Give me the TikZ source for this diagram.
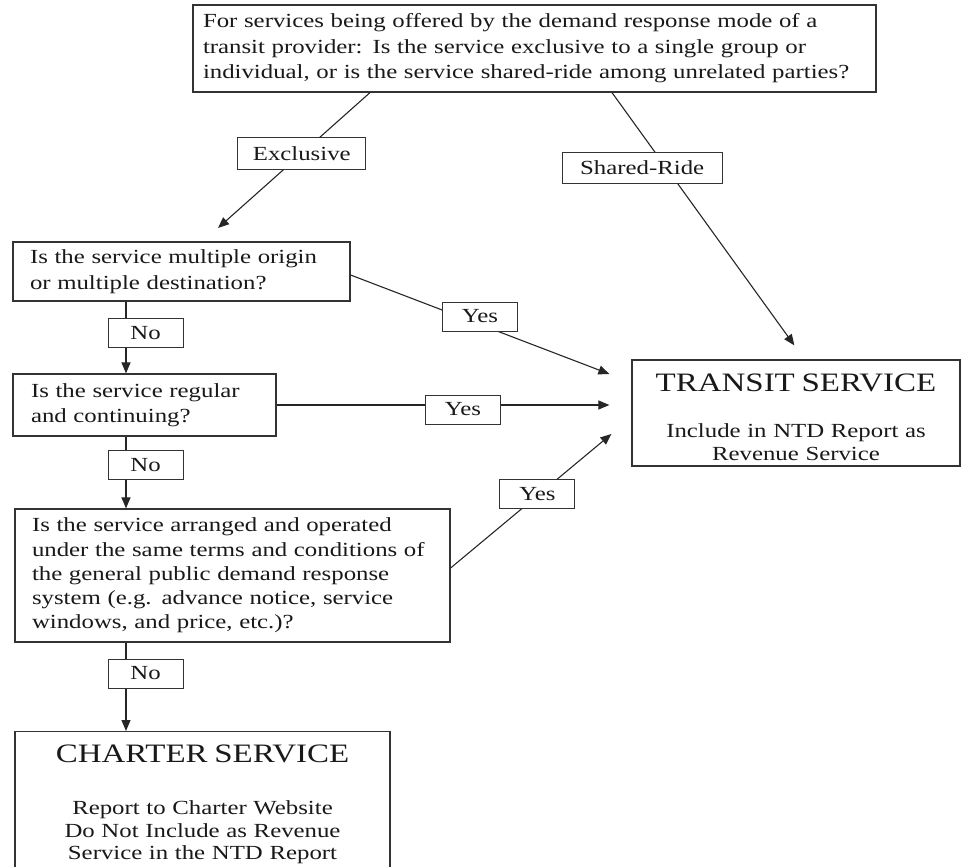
\documentclass[tikz,border=0pt]{standalone}
\usepackage{fontspec}
\setmainfont[FakeStretch=1.24]{Liberation Serif}
\usetikzlibrary{arrows.meta,calc}
\begin{document}
\begin{tikzpicture}[x=1pt,y=-1pt,
  box/.style={draw=black!80, line width=1.2pt, rectangle, fill=white, text=black!90},
  qbox/.style={box, align=left, inner ysep=0pt, font=\fontsize{20}{25.5}\selectfont},
  rbox/.style={box, align=center, inner sep=0pt, font=\fontsize{20}{22.5}\selectfont},
  lbl/.style={box, line width=1pt, minimum width=75pt, minimum height=29pt, inner sep=0pt, font=\fontsize{20}{23}\selectfont},
  conn/.style={line width=1.1pt, draw=black!85},
  arr/.style={conn, -{Triangle[length=11pt,width=9pt]}}
]
\useasboundingbox (0,0) rectangle (961,867);
\clip (0,0) rectangle (961,867);

% boxes
\node[qbox, minimum width=683pt, minimum height=87pt, text width=663pt, inner xsep=10pt] (top) at (534.5,48.5)
 {\mbox{For services being offered by the demand response mode of a}\\
  \mbox{transit provider: Is the service exclusive to a single group or}\\
  \mbox{individual, or is the service shared-ride among unrelated parties?}};
\node[qbox, minimum width=337pt, minimum height=59pt, text width=303pt, inner xsep=17pt] (q1) at (181.5,271.5)
 {Is the service multiple origin\\ or multiple destination?};
\node[qbox, minimum width=263pt, minimum height=62pt, text width=227pt, inner xsep=18pt] (q2) at (144.5,405)
 {Is the service regular\\ and continuing?};
\node[qbox, minimum width=435pt, minimum height=133pt, text width=401pt, inner xsep=17pt, font=\fontsize{20}{24.2}\selectfont] (q3) at (232.5,575.5)
 {\mbox{Is the service arranged and operated}\\
  \mbox{under the same terms and conditions of}\\
  \mbox{the general public demand response}\\
  \mbox{system (e.g. advance notice, service}\\
  \mbox{windows, and price, etc.)?}};
\node[rbox, minimum width=328pt, minimum height=106pt, text width=328pt] (transit) at (796,413)
 {{\fontsize{26.6}{30}\selectfont\rule{0pt}{26pt}TRANSIT SERVICE}\\[24pt]
  Include in NTD Report as\\ Revenue Service};
\node[rbox, anchor=north, minimum width=375pt, minimum height=145pt, text width=375pt] (charter) at (202.5,731)
 {{\fontsize{26.6}{30}\selectfont CHARTER SERVICE}\\[30pt]
  Report to Charter Website\\ Do Not Include as Revenue\\ Service in the NTD Report};

% free ends
\coordinate (xl) at (126,0);
\coordinate (exend) at (218,228);
\coordinate (t0) at ($(transit.north west)+(163,-14)$);
\coordinate (t1) at ($(transit.west)+(-22,-39)$);
\coordinate (t2) at ($(transit.west)+(-22,-8)$);
\coordinate (t3) at ($(transit.west)+(-20,21)$);

% connectors
\draw[arr] ($(top.south)+(-164.5,0)$) -- node[lbl, pos=0.449, minimum width=128pt, minimum height=32pt] (lex) {Exclusive} (exend);
\draw[arr] ($(top.south)+(77.5,0)$) -- node[lbl, pos=0.297, xshift=-24pt, minimum width=160pt, minimum height=31pt] (lsr) {Shared-Ride} (t0);
\draw[arr] ($(q1.east)+(0,3.5)$) -- node[lbl, pos=0.5, yshift=8pt] (ly1) {Yes} (t1);
\draw[arr] (q2.east |- t2) -- node[lbl, pos=0.56, yshift=-4.5pt] (ly2) {Yes} (t2);
\draw[arr] ($(q3.east)+(0,-7.5)$) -- node[lbl, pos=0.54, yshift=2pt] (ly3) {Yes} (t3);
\draw[arr] (q1.south -| xl) -- node[lbl, pos=0.44, xshift=19.5pt] (ln1) {No} (q2.north -| xl);
\draw[arr] (q2.south -| xl) -- node[lbl, pos=0.4, xshift=19.5pt] (ln2) {No} (q3.north -| xl);
\draw[arr] (q3.south -| xl) -- node[lbl, pos=0.35, xshift=19.5pt] (ln3) {No} (charter.north -| xl);
\end{tikzpicture}
\end{document}
